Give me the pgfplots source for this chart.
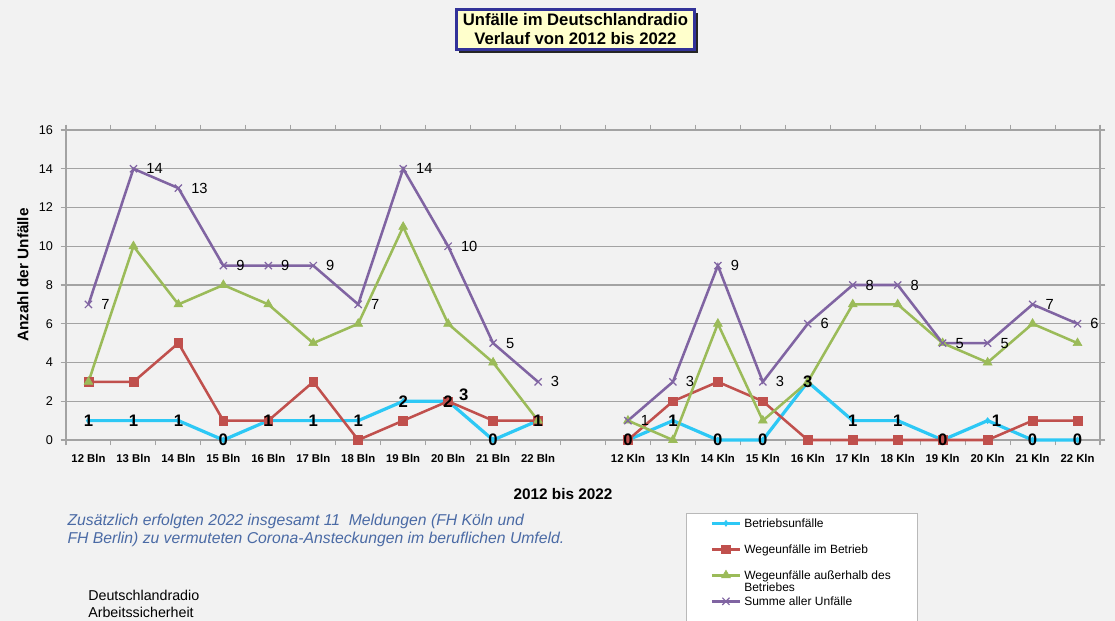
\documentclass[border=0pt]{standalone}
\usepackage{pgfplots}
\pgfplotsset{compat=1.18}
\usepackage{pgfplotstable}
\usepackage{fontspec}
\setmainfont{Liberation Sans}
\usetikzlibrary{shadows}

\definecolor{bgc}{HTML}{F2F2F2}
\definecolor{gridc}{HTML}{A3A3A3}
\definecolor{cyanc}{RGB}{45,200,245}
\definecolor{redc}{HTML}{C0504D}
\definecolor{greenc}{HTML}{9BBB59}
\definecolor{purplec}{HTML}{8064A2}
\definecolor{noteblue}{HTML}{4A6AA5}
\definecolor{titleborder}{HTML}{333399}
\definecolor{titlefill}{HTML}{FFFFCC}

\pgfplotstableread{
x y
0 1
1 1
2 1
3 0
4 1
5 1
6 1
7 2
8 2
9 0
10 1
11 nan
12 0
13 1
14 0
15 0
16 3
17 1
18 1
19 0
20 1
21 0
22 0
}\betrieb

\pgfplotstableread{
x y
0 3
1 3
2 5
3 1
4 1
5 3
6 0
7 1
8 2
9 1
10 1
11 nan
12 0
13 2
14 3
15 2
16 0
17 0
18 0
19 0
20 0
21 1
22 1
}\wegeim

\pgfplotstableread{
x y
0 3
1 10
2 7
3 8
4 7
5 5
6 6
7 11
8 6
9 4
10 1
11 nan
12 1
13 0
14 6
15 1
16 3
17 7
18 7
19 5
20 4
21 6
22 5
}\wegeaus

\pgfplotstableread{
x y
0 7
1 14
2 13
3 9
4 9
5 9
6 7
7 14
8 10
9 5
10 3
11 nan
12 1
13 3
14 9
15 3
16 6
17 8
18 8
19 5
20 5
21 7
22 6
}\summe

% labels of Betriebsunfaelle that sit right of the point, and a stray label
\pgfplotstableread{
x y lab
20 1 1
}\betriebright
\pgfplotstableread{
x y lab
8.35 2.35 3
}\stray

\newcommand{\lstrut}{\rule[-2.5pt]{0pt}{9.5pt}}

\begin{document}
\begin{tikzpicture}
\fill[bgc] (0,0) rectangle (836.25pt,-465.75pt);

\node[draw=titleborder, line width=2.4pt, fill=titlefill,
      drop shadow={shadow xshift=2.5pt, shadow yshift=-2.5pt, fill=black!85, opacity=1},
      minimum width=179pt, minimum height=30pt, inner sep=1pt, align=center,
      font=\fontsize{12.5}{14.3}\selectfont\bfseries]
  at (431.6pt,-22.1pt) {Unfälle im Deutschlandradio\\Verlauf von 2012 bis 2022};

\begin{axis}[
  at={(49.5pt,-97.5pt)}, anchor=north west,
  width=775.5pt, height=232.5pt, scale only axis,
  xmin=-0.5, xmax=22.5, ymin=0, ymax=16,
  xtick={0,...,22},
  xticklabels={12 Bln,13 Bln,14 Bln,15 Bln,16 Bln,17 Bln,18 Bln,19 Bln,20 Bln,21 Bln,22 Bln,,12 Kln,13 Kln,14 Kln,15 Kln,16 Kln,17 Kln,18 Kln,19 Kln,20 Kln,21 Kln,22 Kln},
  minor xtick={-0.5,0.5,...,22.5},
  major x tick style={draw=none},
  minor x tick style={draw=gridc, line width=0.8pt},
  minor tick length=4pt,
  ytick={0,2,...,16},
  y tick style={draw=gridc, line width=0.8pt},
  major tick length=4pt,
  tick align=outside,
  ymajorgrids,
  grid style={gridc, line width=0.8pt},
  axis line style={gridc, line width=0.8pt},
  x tick label style={font=\fontsize{8.5}{10}\selectfont\bfseries, yshift=-3pt},
  y tick label style={font=\fontsize{9.5}{11}\selectfont, xshift=-2.2pt},
  /pgf/number format/assume math mode=true,
  xlabel={2012 bis 2022},
  ylabel={Anzahl der Unfälle},
  every axis x label/.style={at={(axis description cs:0.4807,-0.174)}, anchor=center, font=\fontsize{11.5}{13}\selectfont\bfseries},
  every axis y label/.style={at={(axis description cs:-0.0416,0.532)}, anchor=center, rotate=90, font=\fontsize{11.5}{13}\selectfont\bfseries},
  unbounded coords=jump,
  clip=false,
  legend style={at={(axis description cs:0.5996,-0.2355)}, anchor=north west,
    fill=white, draw=gray!55, line width=0.6pt,
    font=\fontsize{9}{10.5}\selectfont,
    inner xsep=18pt, inner ysep=1.2pt, row sep=7pt,
    cells={anchor=west}},
  legend image code/.code={\draw[#1, mark repeat=2, mark phase=2] plot coordinates {(0pt,0pt) (10.5pt,0pt) (21pt,0pt)};},
]
\addplot[cyanc, line width=2.4pt, mark=diamond*, mark size=2.2pt, mark options={solid, line width=0.5pt}] table[x=x,y=y] {\betrieb};
\addlegendentry{\lstrut Betriebsunfälle}
\addplot[redc, line width=1.9pt, mark=square*, mark size=3.3pt, mark options={solid, line width=0.5pt}] table[x=x,y=y] {\wegeim};
\addlegendentry{\lstrut Wegeunfälle im Betrieb}
\addplot[greenc, line width=1.9pt, mark=triangle*, mark size=3.8pt, mark options={solid, line width=0.5pt}] table[x=x,y=y] {\wegeaus};
\addlegendentry{\lstrut\smash{\begin{tabular}[t]{@{}l@{}}Wegeunfälle außerhalb des\\[-1.2pt]Betriebes\end{tabular}}}
\addplot[purplec, line width=1.9pt, mark=x, mark size=3.8pt, mark options={solid, line width=0.9pt}] table[x=x,y=y] {\summe};
\addlegendentry{\lstrut Summe aller Unfälle}
\addlegendimage{empty legend}
\addlegendentry[inner sep=0pt, minimum height=0pt]{}

% data labels
\addplot[forget plot, draw=none, mark=none, unbounded coords=discard,
  nodes near coords, point meta=explicit symbolic,
  every node near coord/.style={black, anchor=west, xshift=9.5pt, inner sep=0pt, font=\fontsize{11}{12}\selectfont}]
  table[x=x,y=y,meta=y] {\summe};
\addplot[forget plot, draw=none, mark=none, unbounded coords=discard,
  nodes near coords, point meta=explicit symbolic,
  every node near coord/.style={black, anchor=center, inner sep=0pt, font=\fontsize{12.5}{13}\selectfont\bfseries}]
  table[x=x,y=y,meta=y,skip coords between index={20}{21}] {\betrieb};
\addplot[forget plot, draw=none, mark=none,
  nodes near coords, point meta=explicit symbolic,
  every node near coord/.style={black, anchor=west, xshift=3pt, inner sep=0pt, font=\fontsize{12.5}{13}\selectfont\bfseries}]
  table[x=x,y=y,meta=lab] {\betriebright};
\addplot[forget plot, draw=none, mark=none,
  nodes near coords, point meta=explicit symbolic,
  every node near coord/.style={black, anchor=center, inner sep=0pt, font=\fontsize{12.5}{13}\selectfont\bfseries}]
  table[x=x,y=y,meta=lab] {\stray};
\end{axis}

\node[anchor=north west, align=left, text=noteblue, inner sep=0pt,
      font=\fontsize{11.8}{13.6}\selectfont\itshape]
  at (50.5pt,-385pt) {Zusätzlich erfolgten 2022 insgesamt 11\ \ Meldungen (FH Köln und\\FH Berlin) zu vermuteten Corona-Ansteckungen im beruflichen Umfeld.};
\node[anchor=north west, align=left, inner sep=0pt,
      font=\fontsize{10.7}{12.8}\selectfont]
  at (66pt,-442.3pt) {Deutschlandradio\\Arbeitssicherheit};

\pgfresetboundingbox
\useasboundingbox (0,0) rectangle (836.25pt,-465.75pt);
\end{tikzpicture}
\end{document}
